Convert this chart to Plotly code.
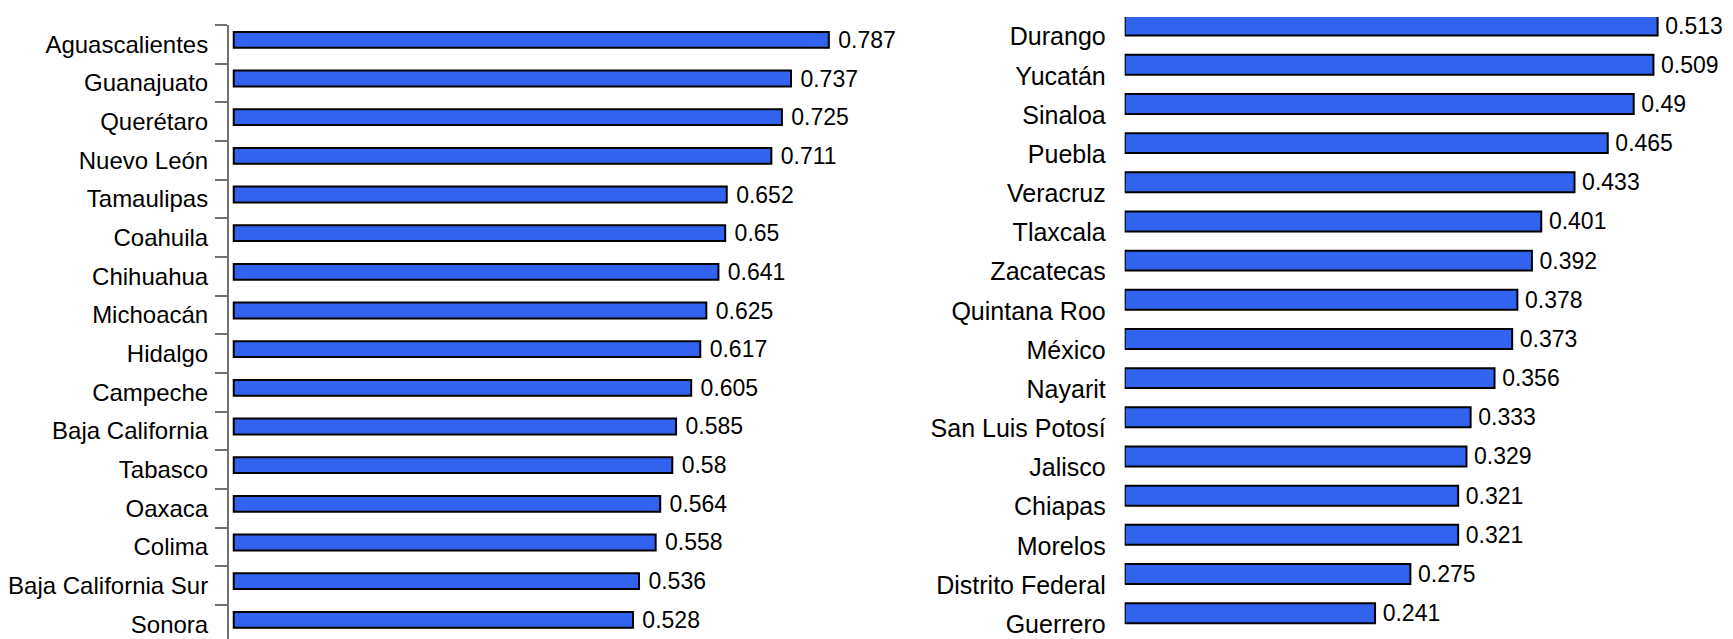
import plotly.graph_objects as go

left_states = ["Aguascalientes", "Guanajuato", "Querétaro", "Nuevo León", "Tamaulipas",
               "Coahuila", "Chihuahua", "Michoacán", "Hidalgo", "Campeche",
               "Baja California", "Tabasco", "Oaxaca", "Colima", "Baja California Sur", "Sonora"]
left_values = [0.787, 0.737, 0.725, 0.711, 0.652, 0.65, 0.641, 0.625, 0.617, 0.605,
               0.585, 0.58, 0.564, 0.558, 0.536, 0.528]

right_states = ["Durango", "Yucatán", "Sinaloa", "Puebla", "Veracruz", "Tlaxcala",
                "Zacatecas", "Quintana Roo", "México", "Nayarit", "San Luis Potosí",
                "Jalisco", "Chiapas", "Morelos", "Distrito Federal", "Guerrero"]
right_values = [0.513, 0.509, 0.49, 0.465, 0.433, 0.401, 0.392, 0.378, 0.373, 0.356,
                0.333, 0.329, 0.321, 0.321, 0.275, 0.241]

# page has an 8px body margin: size the figure so it ends at the window edge
PAGE_OFF = 8
W, H = 1733 - PAGE_OFF, 639 - PAGE_OFF
FONT = "Liberation Sans, Arial, sans-serif"
BAR_FILL = "#3263EE"

fig = go.Figure()
fig.add_trace(go.Bar(
    x=left_values, y=left_states, orientation="h",
    xaxis="x", yaxis="y",
    width=0.41, offset=-0.321,
    marker=dict(color=BAR_FILL, line=dict(color="black", width=2)),
    text=["\u00a0" + str(v) for v in left_values], textposition="outside",
    textfont=dict(family=FONT, size=23, color="black"),
    constraintext="none", cliponaxis=False, showlegend=False,
))
fig.add_trace(go.Bar(
    x=right_values, y=right_states, orientation="h",
    xaxis="x2", yaxis="y2",
    width=0.51, offset=-0.535,
    marker=dict(color=BAR_FILL, line=dict(color="black", width=2)),
    text=["\u2009" + str(v) for v in right_values], textposition="outside",
    textfont=dict(family=FONT, size=23, color="black"),
    constraintext="none", cliponaxis=False, showlegend=False,
))

# panel geometry in page pixels, converted to figure pixels
l_left, l_zero, l_scale, l_right, l_top = 227 - PAGE_OFF, 232 - PAGE_OFF, 757, 860 - PAGE_OFF, 25 - PAGE_OFF
r_left, r_scale, r_top = 1124 - PAGE_OFF, 1040, 17 - PAGE_OFF

fig.update_layout(
    width=W, height=H,
    margin=dict(l=0, r=0, t=0, b=0),
    paper_bgcolor="white", plot_bgcolor="white",
    font=dict(family=FONT, size=24, color="black"),
    xaxis=dict(domain=[l_left / W, l_right / W],
               range=[(l_left - l_zero) / l_scale, (l_right - l_zero) / l_scale],
               visible=False, anchor="y"),
    yaxis=dict(domain=[0, 1 - l_top / H], range=[15.38, -0.5], anchor="x",
               showline=True, linecolor="#707070", linewidth=1.5,
               ticks="outside", ticklen=12, tickcolor="#707070", tickwidth=1.5,
               tickson="boundaries", showgrid=False, zeroline=False,
               ticklabelstandoff=14,
               tickfont=dict(family=FONT, size=24, color="black")),
    xaxis2=dict(domain=[r_left / W, 1],
                range=[0, (W - r_left) / r_scale],
                visible=False, anchor="y2"),
    yaxis2=dict(domain=[0, 1 - r_top / H], range=[15.38, -0.5], anchor="x2",
                showline=False, ticks="", showgrid=False, zeroline=False,
                ticklabelstandoff=18,
                tickfont=dict(family=FONT, size=25, color="black")),
)

fig.write_html("out.html")
